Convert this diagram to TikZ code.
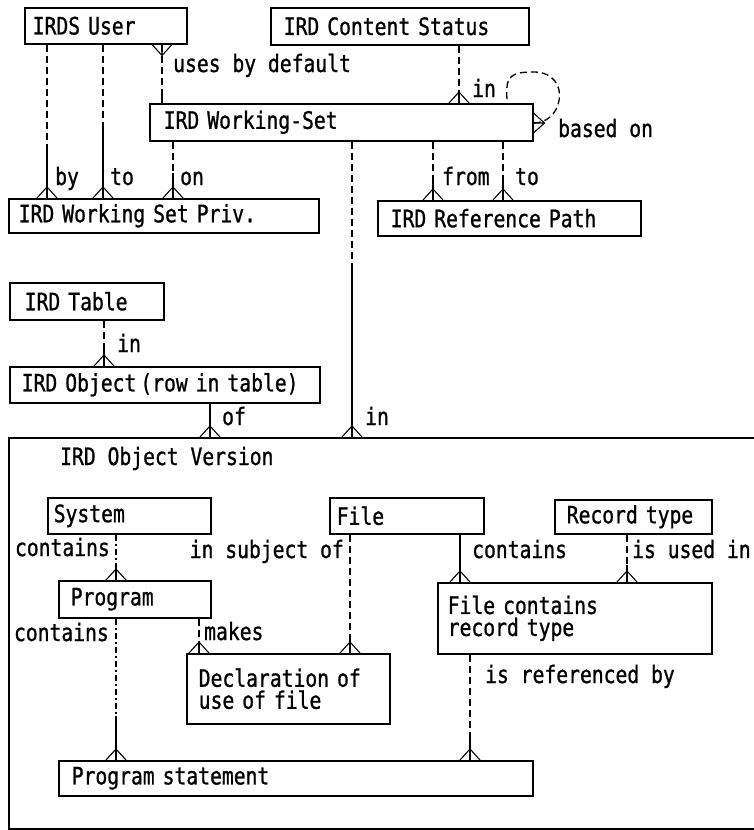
\documentclass[tikz,border=0pt]{standalone}
\usepackage{fontspec}
\newfontfamily\dfont[FakeStretch=0.82,FakeBold=1]{DejaVu Sans Mono}
\newcommand\fs{\dfont\fontsize{24}{22}\selectfont}
\usetikzlibrary{calc}
% connector split into a dashed part (upper) and a solid part (lower)
\newcommand\link[6][dsh]{%
  \coordinate (#2a) at (#3 -| #5);
  \coordinate (#2b) at (#4 -| #5);
  \draw[#1] (#2a) -- ($(#2a)!#6!(#2b)$);
  \draw[sld] ($(#2a)!#6!(#2b)$) -- (#2b);}
% crow's feet
\newcommand\footN[1]{\draw[foot] ($(#1)+(-10,0)$) -- ($(#1)+(0,-11)$) -- ($(#1)+(10,0)$) ($(#1)+(0,-11)$) -- (#1);}
\newcommand\footS[1]{\draw[foot] ($(#1)+(-10,0)$) -- ($(#1)+(0,11)$) -- ($(#1)+(10,0)$) ($(#1)+(0,11)$) -- (#1);}
\newcommand\footE[1]{\draw[foot] ($(#1)+(0,-10)$) -- ($(#1)+(11,0)$) -- ($(#1)+(0,10)$) ($(#1)+(11,0)$) -- (#1);}
\begin{document}
\begin{tikzpicture}[x=1pt,y=-1pt,
  box/.style={draw, line width=1.5pt, anchor=north west, inner ysep=0pt, align=left, font=\fs},
  lbl/.style={inner sep=0pt, font=\fs},
  dsh/.style={line width=1.3pt, dash pattern=on 7pt off 4pt},
  dd/.style={line width=1.3pt, dash pattern=on 6pt off 3pt on 2pt off 3pt},
  sld/.style={line width=1.3pt, solid},
  foot/.style={line width=1.1pt, solid, line join=miter}]
\useasboundingbox (0,0) rectangle (753,830);

% ---- boxes
\node[box, inner xsep=8pt,  text width=146pt, minimum height=36pt] (user)    at (24,7)   {IRDS User};
\node[box, inner xsep=13pt, text width=232pt, minimum height=37pt] (status)  at (270,7)  {IRD Content Status};
\node[box, inner xsep=14pt, text width=355pt, minimum height=37pt] (ws)      at (149,103){IRD Working-Set};
\node[box, inner xsep=10pt, text width=290pt, minimum height=34pt] (priv)    at (8,198)  {IRD Working Set Priv.};
\node[box, inner xsep=13pt, text width=237pt, minimum height=35pt] (refpath) at (377,200){IRD Reference Path};
\node[box, inner xsep=15pt, text width=124pt, minimum height=37pt] (table)   at (9,282)  {IRD Table};
\node[box, inner xsep=12pt, text width=286pt, minimum height=36pt] (object)  at (9,366)  {\mbox{IRD Object\,(row in table)}};

\node[draw, line width=2pt, anchor=north west, inner sep=0pt, minimum width=800pt, minimum height=391pt] (ver) at (8,437) {};
\node[lbl, anchor=base west] (verlbl) at (60,465) {IRD Object Version};

\node[box, inner xsep=6pt,  text width=151pt, minimum height=36pt] (system)  at (47,497) {System};
\node[box, inner xsep=7pt,  text width=140pt, minimum height=36pt] (file)    at (329,497){File};
\node[box, inner xsep=12pt, text width=133pt, minimum height=34pt] (rectype) at (554,499){Record type};
\node[box, inner xsep=12pt, text width=128pt, minimum height=37pt] (program) at (58,580) {Program};
\node[box, inner xsep=10pt, text width=254pt, minimum height=71pt] (fcrt)    at (437,582){File contains\\record type};
\node[box, inner xsep=12pt, text width=179pt, minimum height=70pt] (decl)    at (186,653){Declaration of\\use of file};
\node[box, inner xsep=13pt, text width=448pt, minimum height=35pt] (pstmt)   at (58,760) {Program statement};

% ---- x positions of the connectors
\coordinate (xBy) at (47,0);   \coordinate (xTo) at (103,0);  \coordinate (xUses) at (162,0);
\coordinate (xOn) at (173,0);  \coordinate (xIn1) at (459,0); \coordinate (xFrom) at (433,0);
\coordinate (xTo2) at (503,0); \coordinate (xIn2) at (352,0); \coordinate (xTab) at (104,0);
\coordinate (xOf) at (210,0);  \coordinate (xSysC) at (116,0);\coordinate (xMakes) at (199,0);
\coordinate (xSubj) at (350,0);\coordinate (xFileC) at (460,0);\coordinate (xUsed) at (627,0);
\coordinate (xRef) at (470,0);

% ---- connectors
\link{cBy}{user.south}{priv.north}{xBy}{0.69}       \footN{cByb}
\link{cTo}{user.south}{priv.north}{xTo}{0.55}       \footN{cTob}
\link{cUses}{user.south}{ws.north}{xUses}{0.78}     \footS{cUsesa}
\link{cOn}{ws.south}{priv.north}{xOn}{0.55}         \footN{cOnb}
\link{cIn1}{status.south}{ws.north}{xIn1}{0.78}     \footN{cIn1b}
\link{cFrom}{ws.south}{refpath.north}{xFrom}{0.63}  \footN{cFromb}
\link{cTo2}{ws.south}{refpath.north}{xTo2}{0.58}    \footN{cTo2b}
\link{cIn2}{ws.south}{ver.north}{xIn2}{0.42}        \footN{cIn2b}
\link{cTab}{table.south}{object.north}{xTab}{0.55}  \footN{cTabb}
\coordinate (cOfa) at (object.south -| xOf);
\coordinate (cOfb) at (ver.north -| xOf);
\draw[sld] (cOfa) -- (cOfb);                        \footN{cOfb}

\link[dd]{cSys}{system.south}{program.north}{xSysC}{0.68}  \footN{cSysb}
\link[dd]{cProg}{program.south}{pstmt.north}{xSysC}{0.69}  \footN{cProgb}
\link{cMakes}{program.south}{decl.north}{xMakes}{0.64}     \footN{cMakesb}
\link{cSubj}{file.south}{decl.north}{xSubj}{0.87}          \footN{cSubjb}
\coordinate (cFileCa) at (file.south -| xFileC);
\coordinate (cFileCb) at (fcrt.north -| xFileC);
\draw[sld] (cFileCa) -- (cFileCb);                          \footN{cFileCb}
\link{cUsed}{rectype.south}{fcrt.north}{xUsed}{0.65}       \footN{cUsedb}
\link{cRef}{fcrt.south}{pstmt.north}{xRef}{0.8}            \footN{cRefb}

% self loop "based on"
\coordinate (loopS) at ($(ws.north west)+(358,-4)$);
\coordinate (loopE) at ($(ws.north east)+(0,20)$);
\draw[dsh] (loopS) .. controls ($(loopS)+(-2,-24)$) and (512,72) .. (534,72)
  .. controls (553,72) and (562,86) .. (559,101)
  .. controls (556,115) and (546,123) .. (loopE);
\footE{loopE}

% ---- labels
\node[lbl, anchor=base west] (lUses) at (173,72)  {uses by default};
\node[lbl, anchor=base west] (lBy)   at (55,185)  {by};
\node[lbl, anchor=base west] (lTo)   at (110,185) {to};
\node[lbl, anchor=base west] (lOn)   at (180,185) {on};
\node[lbl, anchor=base west] (lIn1)  at (472,97)  {in};
\node[lbl, anchor=base west] (lBase) at (558,137) {based on};
\node[lbl, anchor=base west] (lFrom) at (442,185) {from};
\node[lbl, anchor=base west] (lTo2)  at (515,185) {to};
\node[lbl, anchor=base west] (lTab)  at (117,352) {in};
\node[lbl, anchor=base west] (lOf)   at (222,425) {of};
\node[lbl, anchor=base west] (lIn2)  at (365,425) {in};
\node[lbl, anchor=base east] (lSysC) at (110,556) {contains};
\node[lbl, anchor=base east] (lSubj) at (344,558) {in subject of};
\node[lbl, anchor=base west] (lFileC) at (472,558) {contains};
\node[lbl, anchor=base west] (lUsed) at (632,558) {is used in};
\node[lbl, anchor=base east] (lProgC) at (109,641) {contains};
\node[lbl, anchor=base west] (lMakes) at (204,640) {makes};
\node[lbl, anchor=base west] (lRef)  at (485,683) {is referenced by};
\end{tikzpicture}
\end{document}
